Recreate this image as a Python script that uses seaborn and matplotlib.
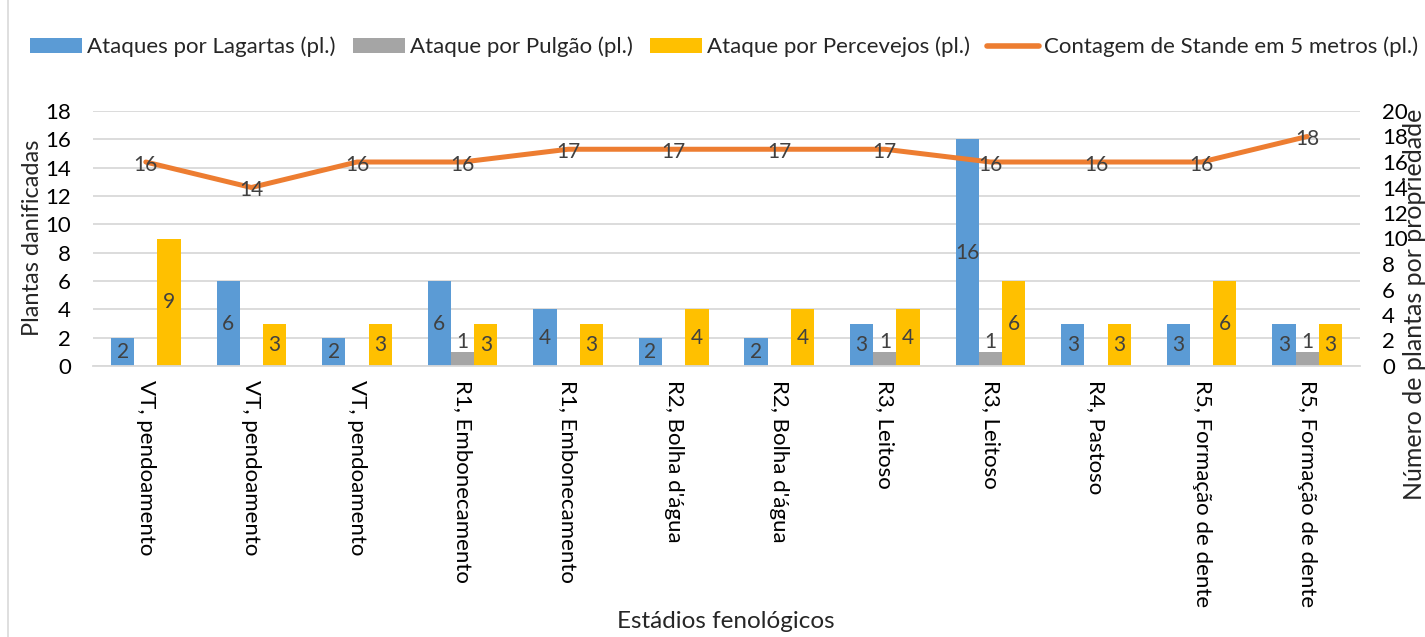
import matplotlib
matplotlib.use("Agg")
import matplotlib.pyplot as plt
import seaborn as sns
import pandas as pd
import numpy as np
from matplotlib.patches import Patch
from matplotlib.lines import Line2D

categories = ["VT, pendoamento", "VT, pendoamento", "VT, pendoamento",
              "R1, Embonecamento", "R1, Embonecamento", "R2, Bolha d'água",
              "R2, Bolha d'água", "R3, Leitoso", "R3, Leitoso", "R4, Pastoso",
              "R5, Formação de dente", "R5, Formação de dente"]
lagartas = [2, 6, 2, 6, 4, 2, 2, 3, 16, 3, 3, 3]
pulgao = [0, 0, 0, 1, 0, 0, 0, 1, 1, 0, 0, 1]
percevejos = [9, 3, 3, 3, 3, 4, 4, 4, 6, 3, 6, 3]
stande = [16, 14, 16, 16, 17, 17, 17, 17, 16, 16, 16, 18]

series_names = ["Ataques por Lagartas (pl.)", "Ataque por Pulgão (pl.)",
                "Ataque por Percevejos (pl.)"]
line_name = "Contagem de Stande em 5 metros (pl.)"
colors = ["#5B9BD5", "#A5A5A5", "#FFC000"]
line_color = "#ED7D31"
text_color = "#404040"

sns.set_style("white")
plt.rcParams['font.family'] = ['Lato', 'DejaVu Sans']

idx = [str(i) for i in range(len(categories))]
rows = []
for name, vals in zip(series_names, [lagartas, pulgao, percevejos]):
    for i, v in zip(idx, vals):
        rows.append({"pos": i, "serie": name, "valor": v})
df = pd.DataFrame(rows)

fig = plt.figure(figsize=(14.25, 6.37), dpi=100)
ax = fig.add_axes([93/1425, 1-366/637, (1360-93)/1425, (366-111)/637])

sns.barplot(data=df, x="pos", y="valor", hue="serie", order=idx,
            hue_order=series_names, palette=colors, width=0.66, gap=0,
            ax=ax, legend=False, saturation=1, edgecolor="none")

# bar labels
for ci, cont in enumerate(ax.containers):
    for bar in cont:
        h = bar.get_height()
        if h <= 0:
            continue
        cx = bar.get_x() + bar.get_width()/2
        if ci == 1:
            ax.text(cx, h + 0.7, f"{int(h)}", ha="center", va="center",
                    fontsize=15, color=text_color)
        else:
            ax.text(cx, h/2, f"{int(h)}", ha="center", va="center",
                    fontsize=15, color=text_color)

ax.set_ylim(0, 18)
ax.set_xlim(-0.5, len(categories)-0.5)
ax.set_yticks(range(0, 19, 2))
ax.yaxis.grid(True, color="#D9D9D9", linewidth=1.3)
ax.set_axisbelow(True)
for s in ["top", "right", "left"]:
    ax.spines[s].set_visible(False)
ax.spines["bottom"].set_color("#D9D9D9")
ax.spines["bottom"].set_linewidth(1.3)
ax.tick_params(axis="y", length=0, pad=16, labelsize=16, labelcolor="black")
ax.tick_params(axis="x", length=0, pad=10, labelsize=16, labelcolor="black")
ax.set_xticks(range(len(categories)))
ax.set_xticklabels(categories, rotation=-90, va="top", ha="center")
ax.set_xlabel("")
ax.set_ylabel("")

ax2 = ax.twinx()
ldf = pd.DataFrame({"x": np.arange(len(categories)), "y": stande})
sns.lineplot(data=ldf, x="x", y="y", ax=ax2, color=line_color, linewidth=3.6,
             legend=False)
for x, y in zip(ldf["x"], ldf["y"]):
    ax2.text(x, y - 0.2, f"{y}", ha="center", va="center", fontsize=15,
             color=text_color)
ax2.set_ylim(0, 20)
ax2.set_yticks(range(0, 21, 2))
ax2.set_xlim(-0.5, len(categories)-0.5)
for s in ["top", "right", "left", "bottom"]:
    ax2.spines[s].set_visible(False)
ax2.tick_params(axis="y", length=0, pad=16, labelsize=16, labelcolor="black")
ax2.set_ylabel("")
ax2.set_xlabel("")

fig.text(33/1425, 1-238/637, "Plantas danificadas", rotation=90, ha="center",
         va="center", fontsize=17)
fig.text(1414/1425, 1-304/637, "Número de plantas por propriedade", rotation=90,
         ha="center", va="center", fontsize=18)
fig.text(726/1425, 1-622/637, "Estádios fenológicos", ha="center", va="center",
         fontsize=17.5)

handles = [Patch(facecolor=c, edgecolor="none") for c in colors]
handles.append(Line2D([0], [0], color=line_color, linewidth=4))
fig.legend(handles, series_names + [line_name], loc="center",
           bbox_to_anchor=(724/1425, 1-47/637), ncol=4, frameon=False,
           fontsize=16, handlelength=2.35, handleheight=0.6, columnspacing=0.77,
           handletextpad=0.22, borderpad=0, borderaxespad=0)

fig.add_artist(Line2D([8/1425, 8/1425], [0, 1], transform=fig.transFigure,
                      color="#D9D9D9", linewidth=1.2))

fig.savefig("out.png", dpi=100, facecolor="white")
